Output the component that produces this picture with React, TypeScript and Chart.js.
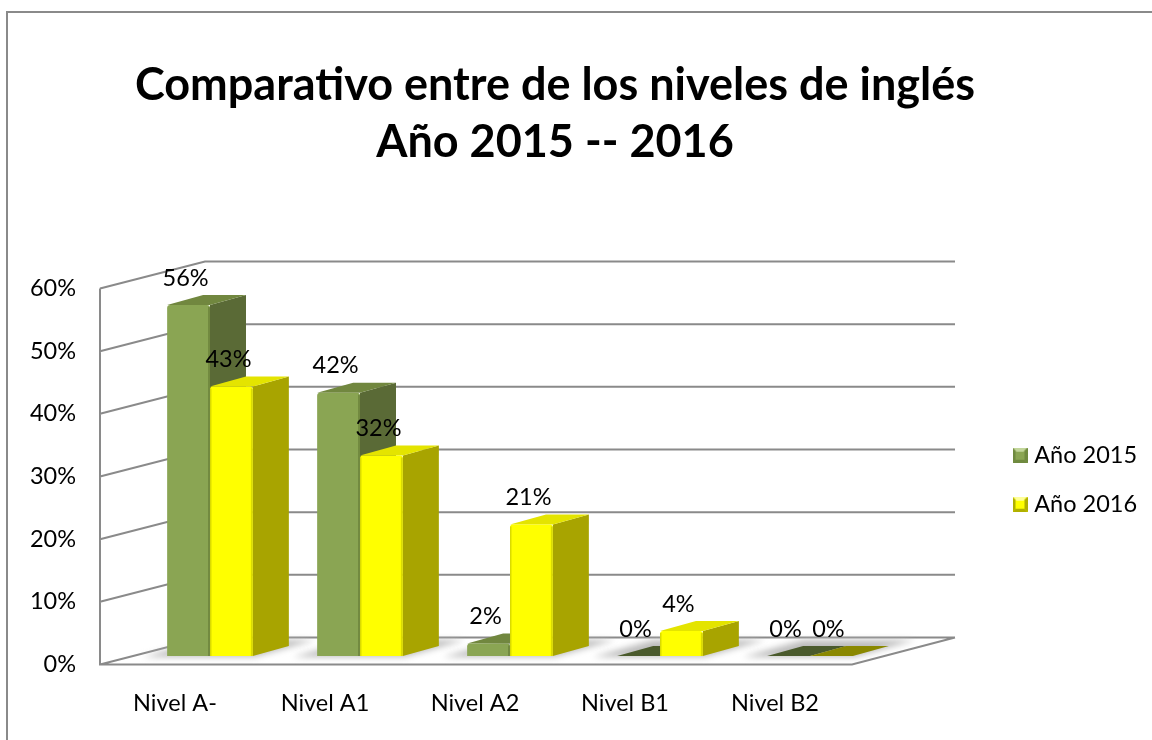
import React, { useEffect, useRef } from "react";
import { Chart, registerables } from "chart.js";

Chart.register(...registerables);

const categories = ["Nivel A-", "Nivel A1", "Nivel A2", "Nivel B1", "Nivel B2"];
const values2015 = [56, 42, 2, 0, 0];
const values2016 = [43, 32, 21, 4, 0];
const yTicks = [0, 10, 20, 30, 40, 50, 60];
const titleLines = ["Comparativo entre de los niveles de inglés", "Año 2015 -- 2016"];
const seriesNames = ["Año 2015", "Año 2016"];

const FONT = "Lato, Carlito, sans-serif";
const GRID = "#8a8a8a";
const TEXT_SIZE = 23.5;
const palettes = [
  { front: "#8aa553", side: "#5a6a36", top: "#71873f", flat: "#4a5a2c", edge: "rgba(70,90,30,0.35)", dark: "#6f8a3f", light: "#c3d69b" },
  { front: "#ffff00", side: "#a8a400", top: "#e4e400", flat: "#8a8800", edge: "rgba(190,190,0,0.55)", dark: "#b0b000", light: "#ffff99" },
];

// bar plane sits one third of the way into the floor depth
const FRONT = { dx: -35, dy: 8.5 };
const BACK = { dx: 70, dy: -18.5 };
const BAR_DEPTH = { dx: 36, dy: -10 };
const WALL_END_X = 955;

function swatch(p: (typeof palettes)[number]) {
  const c = document.createElement("canvas");
  c.width = 15;
  c.height = 15;
  const g = c.getContext("2d")!;
  const tri = (col: string, pts: number[][]) => {
    g.fillStyle = col;
    g.beginPath();
    pts.forEach(([x, y], i) => (i ? g.lineTo(x, y) : g.moveTo(x, y)));
    g.closePath();
    g.fill();
  };
  g.fillStyle = p.front;
  g.fillRect(0, 0, 15, 15);
  tri(p.light, [[0, 0], [15, 0], [11, 4], [4, 4]]);
  tri(p.dark, [[0, 15], [15, 15], [12, 12], [3, 12]]);
  tri(p.dark, [[0, 0], [3, 3], [3, 12], [0, 15]]);
  tri(p.dark, [[15, 0], [12, 3], [12, 12], [15, 15]]);
  return c;
}

const poly = (ctx: CanvasRenderingContext2D, pts: number[][], fill: string) => {
  ctx.fillStyle = fill;
  ctx.beginPath();
  pts.forEach(([x, y], i) => (i ? ctx.lineTo(x, y) : ctx.moveTo(x, y)));
  ctx.closePath();
  ctx.fill();
};

const scene3d = {
  id: "scene3d",
  afterLayout(chart: any) {
    // title centred over the plot + legend block, legend placed beside the walls
    chart.titleBlock.left = 0;
    chart.titleBlock.right = 1110;
    const lg = chart.legend;
    lg.left = 992;
    lg.right = 1152;
    lg.top = 418;
    lg.bottom = 560;
  },
  beforeDatasetsDraw(chart: any) {
    const { ctx, chartArea, scales } = chart;
    const y = scales.y;
    const left = chartArea.left;
    ctx.save();
    ctx.lineCap = "butt";
    // frame of the whole chart object
    ctx.strokeStyle = GRID;
    ctx.lineWidth = 2;
    ctx.beginPath();
    ctx.moveTo(7, 740);
    ctx.lineTo(7, 12);
    ctx.lineTo(1152, 12);
    ctx.stroke();
    // walls and floor
    ctx.strokeStyle = GRID;
    ctx.lineWidth = 2;
    const fx = left + FRONT.dx;
    const bx = left + BACK.dx;
    ctx.beginPath();
    yTicks.forEach((t) => {
      const p = y.getPixelForValue(t);
      ctx.moveTo(fx, p + FRONT.dy);
      ctx.lineTo(bx, p + BACK.dy);
      ctx.lineTo(WALL_END_X, p + BACK.dy);
    });
    const p0 = y.getPixelForValue(0);
    const p60 = y.getPixelForValue(60);
    ctx.moveTo(fx, p60 + FRONT.dy);
    ctx.lineTo(fx, p0 + FRONT.dy);
    ctx.lineTo(chartArea.right + FRONT.dx + 2, p0 + FRONT.dy);
    ctx.lineTo(WALL_END_X, p0 + BACK.dy);
    ctx.stroke();

    const metas = [chart.getDatasetMeta(0), chart.getDatasetMeta(1)];
    // soft floor shadow under each group
    ctx.save();
    ctx.filter = "blur(3px)";
    categories.forEach((_, i) => {
      const a = metas[0].data[i];
      const b = metas[1].data[i];
      const x0 = a.x - a.width / 2 - 24;
      const x1 = b.x + b.width / 2 + 2;
      poly(ctx, [[x0, p0 + 1], [x1, p0 + 1], [x1 + 60, p0 - 16], [x0 + 60, p0 - 16]], "#bdbdbd");
    });
    ctx.restore();
    // depth faces
    categories.forEach((_, i) => {
      metas.forEach((m, s) => {
        const el = m.data[i];
        const pal = palettes[s];
        const xa = el.x - el.width / 2;
        const xb = el.x + el.width / 2;
        const yt = el.y;
        const { dx, dy } = BAR_DEPTH;
        const isFlat = chart.data.datasets[s].data[i] === 0;
        if (!isFlat) poly(ctx, [[xb, yt], [xb + dx, yt + dy], [xb + dx, p0 + dy], [xb, p0]], pal.side);
        poly(ctx, [[xa, yt], [xb, yt], [xb + dx, yt + dy], [xa + dx, yt + dy]], isFlat ? pal.flat : pal.top);
      });
    });
    ctx.restore();
  },
  afterDatasetsDraw(chart: any) {
    const { ctx } = chart;
    ctx.save();
    [0, 1].forEach((s) => {
      const m = chart.getDatasetMeta(s);
      m.data.forEach((el: any, i: number) => {
        const v = chart.data.datasets[s].data[i];
        const xb = el.x + el.width / 2;
        const xa = el.x - el.width / 2;
        if (v > 0) {
          ctx.fillStyle = palettes[s].edge;
          ctx.fillRect(xb - 2, el.y + 2, 2, el.base - el.y - 2);
          if (s === 1) ctx.fillRect(xa, el.y + 2, 1.5, el.base - el.y - 2);
        }
        ctx.fillStyle = "#000";
        ctx.font = TEXT_SIZE + "px " + FONT;
        ctx.textAlign = "center";
        ctx.textBaseline = "middle";
        ctx.fillText(v + "%", el.x - 3, el.y - 27);
      });
    });
    ctx.restore();
  },
};

export default function App() {
  const ref = useRef<HTMLCanvasElement>(null);
  useEffect(() => {
    document.body.style.margin = "0";
    const chart = new Chart(ref.current!, {
      type: "bar",
      data: {
        labels: categories,
        datasets: [
          { label: seriesNames[0], data: values2015, backgroundColor: palettes[0].front, borderRadius: { topLeft: 3, topRight: 3, bottomLeft: 0, bottomRight: 0 } },
          { label: seriesNames[1], data: values2016, backgroundColor: palettes[1].front, borderRadius: { topLeft: 3, topRight: 3, bottomLeft: 0, bottomRight: 0 } },
        ],
      },
      options: {
        responsive: false,
        animation: false,
        layout: { padding: { left: 0, top: 0, right: 267, bottom: 0 } },
        datasets: { bar: { categoryPercentage: 2 / 3.5, barPercentage: 1 } },
        plugins: {
          tooltip: { enabled: false },
          title: {
            display: true,
            text: titleLines,
            color: "#000",
            font: { family: FONT, size: 45, weight: "bold", lineHeight: 57 / 45 },
            padding: { top: 56.5, bottom: 109.5 },
          },
          legend: {
            position: "chartArea",
            align: "start",
            labels: {
              color: "#000",
              font: { family: FONT, size: TEXT_SIZE },
              padding: 25.5,
              boxWidth: 15,
              boxHeight: 15,
              usePointStyle: true,
              pointStyleWidth: 5,
              generateLabels: (c: any) =>
                c.data.datasets.map((d: any, i: number) => ({
                  text: d.label,
                  fontColor: "#000",
                  datasetIndex: i,
                  pointStyle: swatch(palettes[i]),
                  hidden: false,
                  lineWidth: 0,
                })),
            },
          },
        },
        scales: {
          x: {
            grid: { display: false },
            border: { display: false },
            afterFit: (s: any) => { s.height = 84; },
            ticks: { color: "#000", font: { family: FONT, size: TEXT_SIZE }, padding: 25, labelOffset: -35, maxRotation: 0, autoSkip: false },
          },
          y: {
            min: 0,
            max: 60,
            grid: { display: false },
            border: { display: false },
            afterFit: (s: any) => { s.width = 135; },
            afterBuildTicks: (s: any) => { s.ticks = yTicks.map((v) => ({ value: v })); },
            ticks: { color: "#000", font: { family: FONT, size: TEXT_SIZE }, padding: 51, labelOffset: 8.5, callback: (v: any) => v + "%" },
          },
        },
      },
      plugins: [scene3d],
    } as any);
    return () => chart.destroy();
  }, []);
  return <canvas ref={ref} width={1152} height={740} style={{ display: "block" }} />;
}
